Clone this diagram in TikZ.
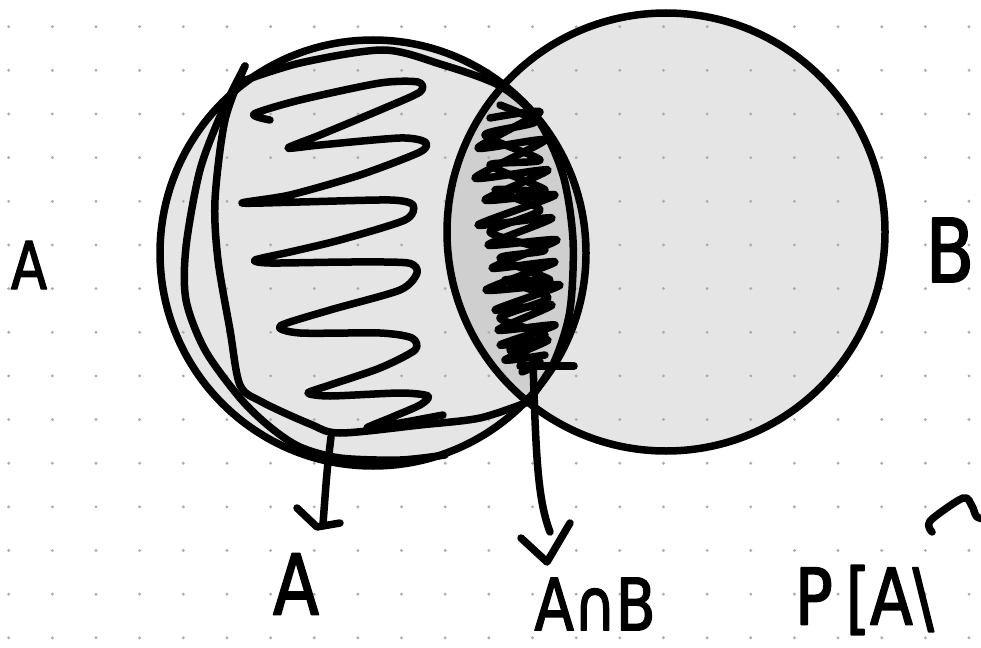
\documentclass[tikz,border=0pt]{standalone}
\usepackage{fontspec}
\setmainfont{DejaVu Sans}
\newfontfamily\handfont{DejaVu Sans}[FakeStretch=0.8,FakeBold=2]
\usetikzlibrary{calc,positioning}
\definecolor{vnfill}{RGB}{229,229,229}
\definecolor{vnboth}{RGB}{207,207,207}
\definecolor{vndot}{RGB}{172,172,172}
\newcommand{\hand}[1]{\handfont\fontsize{#1}{#1}\selectfont}

\begin{document}
\begin{tikzpicture}[x=1pt,y=-1pt,line width=7.5pt,line cap=round,line join=round]
      \useasboundingbox (0,0) rectangle (981,647);
      \fill[white] (0,0) rectangle (981,647);
      \coordinate (ca) at (373,253);
      \coordinate (cb) at (666,232);
      % the two sets and their overlap
      \fill[vnfill] (ca) circle[radius=213pt];
      \fill[vnfill] (cb) circle[radius=219pt];
      \begin{scope}
        \clip (ca) circle[radius=213pt];
        \fill[vnboth] (cb) circle[radius=219pt];
      \end{scope}
      \foreach \i in {0,...,22}
        \foreach \j in {0,...,14}
          {\fill[vndot] (8.7+43.65*\i,26.7+43.65*\j) circle[radius=1.6pt];}
      \draw (ca) circle[radius=213pt];
      \draw (cb) circle[radius=219pt];
      % scribbles in A
      \draw plot[smooth,tension=0.45] coordinates {(270,120) (254,114) (300,100) (380,83) (418,82)
        (420,92) (380,110) (320,135) (288,148) (320,145) (400,138) (425,142) (420,152) (360,175)
        (290,195) (242,203) (300,202) (390,200) (413,205) (405,220) (340,240) (290,252) (255,260)
        (270,263) (350,262) (408,263) (417,273) (400,290) (330,310) (280,326) (300,333) (380,333)
        (412,338) (415,350) (380,368) (330,385) (308,393) (330,396) (400,393) (428,396) (420,405)
        (390,418) (367,428) (400,423) (443,415)};
      \draw plot[smooth,tension=0.5] coordinates {(245,66) (222,112) (200,170) (186,247) (186,300)
        (205,350) (240,398) (270,427) (300,447) (340,458) (400,460) (445,455)};
      \draw plot[smooth,tension=0.5] coordinates {(245,66) (225,120) (215,200) (218,260) (230,330)
        (240,385) (262,402) (310,424) (340,433) (420,425) (480,418) (528,402)};
      \draw plot[smooth,tension=0.5] coordinates {(240,82) (300,63) (383,50) (440,64) (500,86)
        (538,120) (563,175) (573,240) (570,310) (555,360) (533,395)};
      % scribble in the overlap
      \draw plot[smooth,tension=0.4] coordinates {(490,118) (540,112) (478,148) (545,140) (475,178)
        (548,170) (485,200) (555,195) (478,225) (552,218) (488,245) (557,240) (492,268) (555,262)
        (486,290) (560,285) (495,310) (552,305) (498,330) (555,325) (500,345) (548,340) (505,360)
        (545,355)};
      \draw plot[smooth,tension=0.4] coordinates {(500,105) (535,122) (485,135) (540,160) (490,165)
        (545,190) (495,190) (540,210) (490,232) (545,250) (500,258) (550,280) (505,280) (548,298)
        (500,318) (545,335) (510,350) (540,362) (522,372)};
      \draw (520,366) -- (574,366);
      % arrows to the labels
      \coordinate (ta) at (331,437);
      \coordinate (tb) at (323,524);
      \draw (ta) .. controls (327,470) .. (tb);
      \draw (297,508) -- (317,527) -- (340,523);
      \coordinate (va) at (533,362);
      \coordinate (vb) at (550,532);
      \draw (va) .. controls (536,460) and (538,500) .. (vb);
      \draw (521,538) -- (547,562) -- (570,523);
      \draw plot[smooth,tension=0.5] coordinates {(932,532) (930,521) (963,498) (972,506) (977,517) (990,520)};
      % labels
      \node (lblA) at (29,265) {\hand{66}A};
      \node (lblB) at (950,250) {\hand{88}B};
      \node (setA) at (296,584) {\hand{84}A};
      \node[inner sep=1pt] (both) at (595,604) {\hand{72}A∩B};
      \node[anchor=west] (prob) at (788,600) {\hand{78}P\,[A\textbackslash};
    \end{tikzpicture}
\end{document}
